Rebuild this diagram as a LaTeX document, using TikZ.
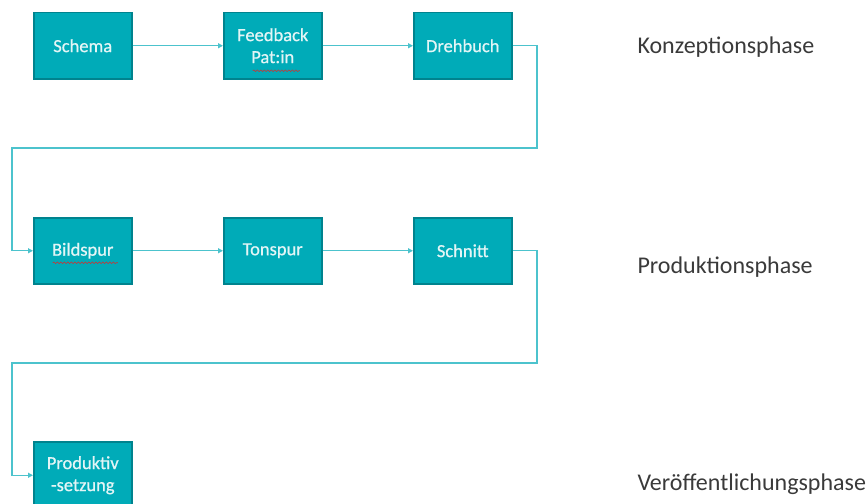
\documentclass[tikz,border=0pt]{standalone}
\usepackage{fontspec}
\setmainfont{Carlito}
\newfontfamily\boxfont{Carlito}[FakeBold=0.7]
\usetikzlibrary{arrows.meta,decorations.pathmorphing,calc}
\definecolor{boxfill}{HTML}{00ABB8}
\definecolor{boxline}{HTML}{00838E}
\definecolor{boxtext}{HTML}{E3F5F6}
\definecolor{flow}{HTML}{4CC3CD}
\definecolor{phasetext}{HTML}{3A3A3A}
\definecolor{spell}{HTML}{D03030}
\begin{document}
\begin{tikzpicture}[x=1pt,y=-1pt,
  stepbox/.style={draw=boxline, line width=1.5pt, fill=boxfill,
    minimum width=98pt, minimum height=66pt, inner sep=0pt,
    text=boxtext, font=\boxfont\fontsize{18.5}{22}\selectfont, align=center,
    anchor=north west},
  flowline/.style={draw=flow, line width=1.2pt,
    -{Triangle[length=5pt,width=5pt]}},
  phase/.style={anchor=west, text=phasetext,
    font=\fontsize{24}{26}\selectfont},
  squiggle/.style={draw=spell, line width=0.6pt,
    decorate, decoration={snake, amplitude=0.8pt, segment length=3.5pt}}]
\useasboundingbox (0,0) rectangle (866,503);

% first row: concept
\node[stepbox] (schema)   at (33,12)  {Schema};
\node[stepbox] (feedback) at (223,12) {Feedback\\Pat:in};
\node[stepbox] (drehbuch) at (413,12) {Drehbuch};

% second row: production
\node[stepbox] (bildspur) at (33,217)  {Bildspur};
\node[stepbox] (tonspur)  at (223,217) {Tonspur};
\node[stepbox] (schnitt)  at (413,217) {Schnitt};

% third row: release
\node[stepbox, minimum height=67pt] (prod) at (33,441) {Produktiv\\-setzung};

% spell-check underlines
\draw[squiggle] ($(feedback.center)+(-20,25)$) -- ($(feedback.center)+(27,25)$);
\draw[squiggle] ($(bildspur.center)+(-30,12)$) -- ($(bildspur.center)+(35,12)$);

% routing points of the row changes
\coordinate (r1) at (537,148);
\coordinate (l1) at (12,148);
\coordinate (r2) at (537,363);
\coordinate (l2) at (12,363);

% connectors
\draw[flowline] (schema) -- (feedback);
\draw[flowline] (feedback) -- (drehbuch);
\draw[flowline] (drehbuch.east) -| (r1) -- (l1) |- (bildspur.west);
\draw[flowline] (bildspur) -- (tonspur);
\draw[flowline] (tonspur) -- (schnitt);
\draw[flowline] (schnitt.east) -| (r2) -- (l2) |- (prod.west);

% phase labels
\node[phase] (p1) at (634,47)  {Konzeptionsphase};
\node[phase] (p2) at (634,267) {Produktionsphase};
\node[phase] (p3) at (634,484) {Veröffentlichungsphase};
\end{tikzpicture}
\end{document}
